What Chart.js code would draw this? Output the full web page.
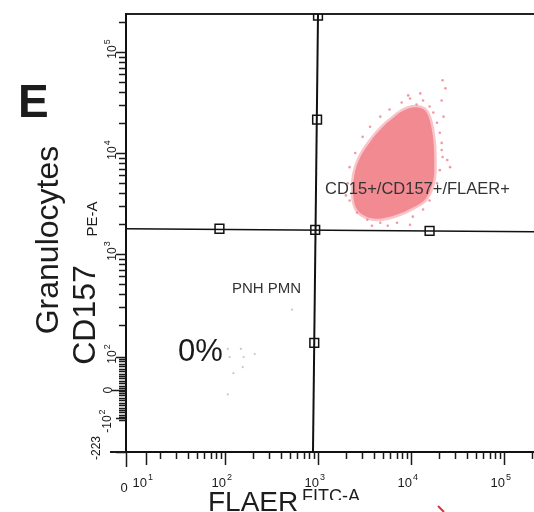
<!DOCTYPE html>
<html>
<head>
<meta charset="utf-8">
<script src="https://cdn.jsdelivr.net/npm/chart.js@4.4.1/dist/chart.umd.min.js"></script>
<style>
  html, body { margin: 0; padding: 0; background: #fff; overflow: hidden; }
  #wrap { width: 534px; height: 512px; }
</style>
</head>
<body>
<div id="wrap"><canvas id="plot" width="534" height="512"></canvas></div>
<script>
// axes in display decades (biexponential display)
const xRange = [0.935, 5.323];
const yRange = [1.04, 5.376];

const xTickValues = [0.935, 1.15, 2, 3, 4, 5];
const xTickLabels = ['0', '10', '10', '10', '10', '10'];
const xTickExps = ['', '1', '2', '3', '4', '5'];

const yTickValues = [5, 4, 3, 1.98, 1.653, 1.376, 1.04];
const yTickLabels = ['10', '10', '10', '10', '0', '-10', '-223'];
const yTickExps = ['5', '4', '3', '2', '', '2', ''];

// granulocyte cloud outline (FLAER FITC-A vs CD157 PE-A)
const cloudX = [3.88, 4.01, 4.14, 4.20, 4.24, 4.25, 4.24, 4.16, 4.02, 3.85, 3.67, 3.52, 3.42, 3.38, 3.39, 3.45, 3.56, 3.70, 3.88];
const cloudY = [4.40, 4.45, 4.43, 4.33, 4.13, 3.93, 3.73, 3.55, 3.46, 3.39, 3.35, 3.37, 3.44, 3.58, 3.78, 3.95, 4.11, 4.26, 4.40];

// sparse events round the cloud
const edgeX = [3.90, 3.99, 4.06, 4.13, 4.20, 4.24, 4.28, 4.31, 4.33, 4.34, 4.31, 4.28, 4.20, 4.13, 4.02, 3.85, 3.67, 3.53, 3.42, 3.34,
               3.32, 3.34, 3.40, 3.48, 3.56, 3.67, 3.77, 4.34, 4.37, 4.33, 4.35, 4.33, 4.39, 4.42, 4.10, 3.97, 3.58, 3.75, 3.30, 3.99];
const edgeY = [4.50, 4.54, 4.48, 4.52, 4.46, 4.40, 4.30, 4.20, 4.10, 3.96, 3.83, 3.70, 3.53, 3.44, 3.37, 3.31, 3.31, 3.34, 3.41, 3.53,
               3.70, 3.86, 4.00, 4.16, 4.26, 4.36, 4.43, 4.72, 4.64, 4.52, 4.36, 4.03, 3.93, 3.86, 4.59, 4.57, 3.28, 3.28, 3.58, 3.29];

// events in the PNH PMN quadrant
const pnhX = [2.03, 2.17, 2.32, 2.05, 2.20, 2.19, 2.09, 2.03, 2.72];
const pnhY = [2.06, 2.06, 2.01, 1.98, 1.98, 1.88, 1.82, 1.61, 2.45];

// quadrant gate
const gateVX = [3.00, 2.946];
const gateVY = [5.376, 1.04];
const gateHX = [0.935, 5.323];
const gateHY = [3.25, 3.22];
const handleX = [3.00, 2.99, 2.97, 2.96, 1.94, 4.20];
const handleY = [5.36, 4.33, 3.24, 2.12, 3.25, 3.23];

const pts = (xs, ys) => xs.map((x, i) => ({ x, y: ys[i] }));

function minorTicks(decades, maxVal) {
  const out = [];
  decades.forEach(d => {
    for (let k = 2; k <= 9; k++) {
      const v = d + Math.log10(k);
      if (v <= maxVal) out.push(v);
    }
  });
  return out;
}

const axisFont = 'Liberation Sans, Arial, sans-serif';

// ================== TICKS / LABELS ===================
const cytoAxes = {
  id: 'cytoAxes',
  afterDraw(chart) {
    const ctx = chart.ctx;
    const xs = chart.scales.x, ys = chart.scales.y;
    const area = chart.chartArea;
    ctx.save();
    ctx.strokeStyle = '#1a1a1a';
    ctx.fillStyle = '#1a1a1a';

    // axis stub left of the origin
    ctx.lineWidth = 2;
    ctx.beginPath();
    ctx.moveTo(area.left - 16, area.bottom);
    ctx.lineTo(area.left, area.bottom);
    ctx.stroke();
    ctx.lineWidth = 1.5;

    // x ticks
    const xMinor = minorTicks([1, 2, 3, 4, 5], xRange[1]);
    ctx.beginPath();
    xMinor.forEach(v => {
      const p = Math.round(xs.getPixelForValue(v)) + 0.5;
      ctx.moveTo(p, area.bottom); ctx.lineTo(p, area.bottom + 7);
    });
    xTickValues.forEach((v, i) => {
      const p = Math.round(xs.getPixelForValue(v)) + 0.5;
      ctx.moveTo(p, area.bottom); ctx.lineTo(p, area.bottom + (i === 0 ? 15 : 13));
    });
    ctx.stroke();

    // y ticks
    const yMinor = minorTicks([2, 3, 4, 5], yRange[1]);
    ctx.beginPath();
    yMinor.forEach(v => {
      const p = Math.round(ys.getPixelForValue(v)) + 0.5;
      ctx.moveTo(area.left, p); ctx.lineTo(area.left - 7, p);
    });
    // linear region comb round zero
    for (let v = 1.36; v <= 1.98; v += 0.024) {
      const p = Math.round(ys.getPixelForValue(v)) + 0.5;
      ctx.moveTo(area.left, p); ctx.lineTo(area.left - 7, p);
    }
    yTickValues.forEach((v, i) => {
      const p = Math.round(ys.getPixelForValue(v)) + 0.5;
      const len = yTickLabels[i] === '0' ? 14 : 10;
      ctx.moveTo(area.left, p); ctx.lineTo(area.left - len, p);
    });
    ctx.stroke();

    // x tick labels
    ctx.textBaseline = 'alphabetic';
    xTickValues.forEach((v, i) => {
      const p = xs.getPixelForValue(v);
      if (!xTickExps[i]) {
        ctx.font = '13px ' + axisFont;
        ctx.textAlign = 'center';
        ctx.fillText(xTickLabels[i], p - 2, area.bottom + 40);
        return;
      }
      ctx.font = '13px ' + axisFont;
      ctx.textAlign = 'right';
      ctx.fillText(xTickLabels[i], p + 1, area.bottom + 35);
      ctx.font = '9px ' + axisFont;
      ctx.textAlign = 'left';
      ctx.fillText(xTickExps[i], p + 2, area.bottom + 28);
    });

    // y tick labels, rotated
    yTickValues.forEach((v, i) => {
      const p = ys.getPixelForValue(v);
      const lab = yTickLabels[i];
      ctx.save();
      if (lab === '-223') {
        ctx.translate(100, p - 4);
      } else if (lab === '-10') {
        ctx.translate(111, p + 6);
      } else {
        ctx.translate(lab === '0' ? 112 : 116, p);
      }
      ctx.rotate(-Math.PI / 2);
      ctx.font = '12px ' + axisFont;
      ctx.textAlign = 'center';
      ctx.fillText(lab, 0, 0);
      if (yTickExps[i]) {
        const w = ctx.measureText(lab).width;
        ctx.font = '9px ' + axisFont;
        ctx.textAlign = 'left';
        ctx.fillText(yTickExps[i], w / 2 + 1, -6);
      }
      ctx.restore();
    });

    // annotations in the plot
    ctx.fillStyle = '#333';
    ctx.textAlign = 'left';
    ctx.font = '15px ' + axisFont;
    ctx.fillText('PNH PMN', xs.getPixelForValue(2.075), ys.getPixelForValue(2.614));
    ctx.font = '16.5px ' + axisFont;
    ctx.fillText('CD15+/CD157+/FLAER+', xs.getPixelForValue(3.075), ys.getPixelForValue(3.594));
    ctx.fillStyle = '#1a1a1a';
    ctx.font = '31px ' + axisFont;
    ctx.fillText('0%', xs.getPixelForValue(1.495), ys.getPixelForValue(1.94));

    // panel letter and titles
    ctx.fillStyle = '#1c1c1c';
    ctx.font = 'bold 46px ' + axisFont;
    ctx.fillText('E', 18, 117);

    ctx.save();
    ctx.translate(58, 240);
    ctx.rotate(-Math.PI / 2);
    ctx.textAlign = 'center';
    ctx.font = '32px ' + axisFont;
    ctx.fillText('Granulocytes', 0, 0);
    ctx.restore();

    ctx.save();
    ctx.translate(95, 315);
    ctx.rotate(-Math.PI / 2);
    ctx.textAlign = 'center';
    ctx.font = '32px ' + axisFont;
    ctx.fillText('CD157', 0, 0);
    ctx.restore();

    ctx.save();
    ctx.translate(97, 219);
    ctx.rotate(-Math.PI / 2);
    ctx.textAlign = 'center';
    ctx.font = '15px "Liberation Sans Narrow", ' + axisFont;
    ctx.fillText('PE-A', 0, 0);
    ctx.restore();

    ctx.save();
    ctx.beginPath();
    ctx.rect(0, 0, 534, 500);
    ctx.clip();
    ctx.font = '18px ' + axisFont;
    ctx.fillText('FITC-A', 302, 502);
    ctx.restore();

    ctx.font = '28px ' + axisFont;
    ctx.fillText('FLAER', 208, 511);

    // bit of a red arrow at the bottom edge
    ctx.strokeStyle = '#d8333a';
    ctx.lineWidth = 2;
    ctx.beginPath();
    ctx.moveTo(438, 506);
    ctx.lineTo(444, 512);
    ctx.stroke();

    ctx.restore();
  }
};

const ctx = document.getElementById('plot').getContext('2d');
new Chart(ctx, {
  type: 'scatter',
  data: {
    datasets: [
      {
        data: pts(cloudX, cloudY),
        showLine: true,
        fill: 'shape',
        tension: 0.35,
        backgroundColor: 'rgb(242,138,146)',
        borderColor: 'rgba(242,138,146,0.5)',
        borderWidth: 5,
        pointRadius: 0
      },
      {
        data: pts(edgeX, edgeY),
        pointRadius: 1.3,
        pointBorderWidth: 0,
        backgroundColor: 'rgba(236,120,130,0.75)'
      },
      {
        data: pts(pnhX, pnhY),
        pointRadius: 1.1,
        pointBorderWidth: 0,
        backgroundColor: 'rgba(190,170,175,0.7)'
      },
      {
        data: pts(gateVX, gateVY),
        showLine: true,
        borderColor: '#111',
        borderWidth: 2,
        pointRadius: 0
      },
      {
        data: pts(gateHX, gateHY),
        showLine: true,
        borderColor: '#111',
        borderWidth: 1.6,
        pointRadius: 0
      },
      {
        data: pts(handleX, handleY),
        pointStyle: 'rect',
        pointRadius: 6.2,
        pointBorderWidth: 1.5,
        pointBorderColor: '#111',
        pointBackgroundColor: 'rgba(255,255,255,0)'
      }
    ]
  },
  options: {
    responsive: false,
    devicePixelRatio: 1,
    animation: false,
    events: [],
    layout: { autoPadding: false, padding: { left: 126, top: 14, right: 0, bottom: 60 } },
    plugins: { legend: { display: false }, tooltip: { enabled: false } },
    scales: {
      x: {
        type: 'linear', min: xRange[0], max: xRange[1],
        grid: { display: false, drawTicks: false },
        ticks: { display: false },
        border: { display: true, color: '#111', width: 2 },
        afterFit: s => { s.height = 0; }
      },
      x2: {
        type: 'linear', position: 'top', min: xRange[0], max: xRange[1],
        grid: { display: false, drawTicks: false },
        ticks: { display: false },
        border: { display: true, color: '#222', width: 2 },
        afterFit: s => { s.height = 0; }
      },
      y: {
        type: 'linear', min: yRange[0], max: yRange[1],
        grid: { display: false, drawTicks: false },
        ticks: { display: false },
        border: { display: true, color: '#111', width: 2 },
        afterFit: s => { s.width = 0; }
      }
    }
  },
  plugins: [cytoAxes]
});
</script>
</body>
</html>
